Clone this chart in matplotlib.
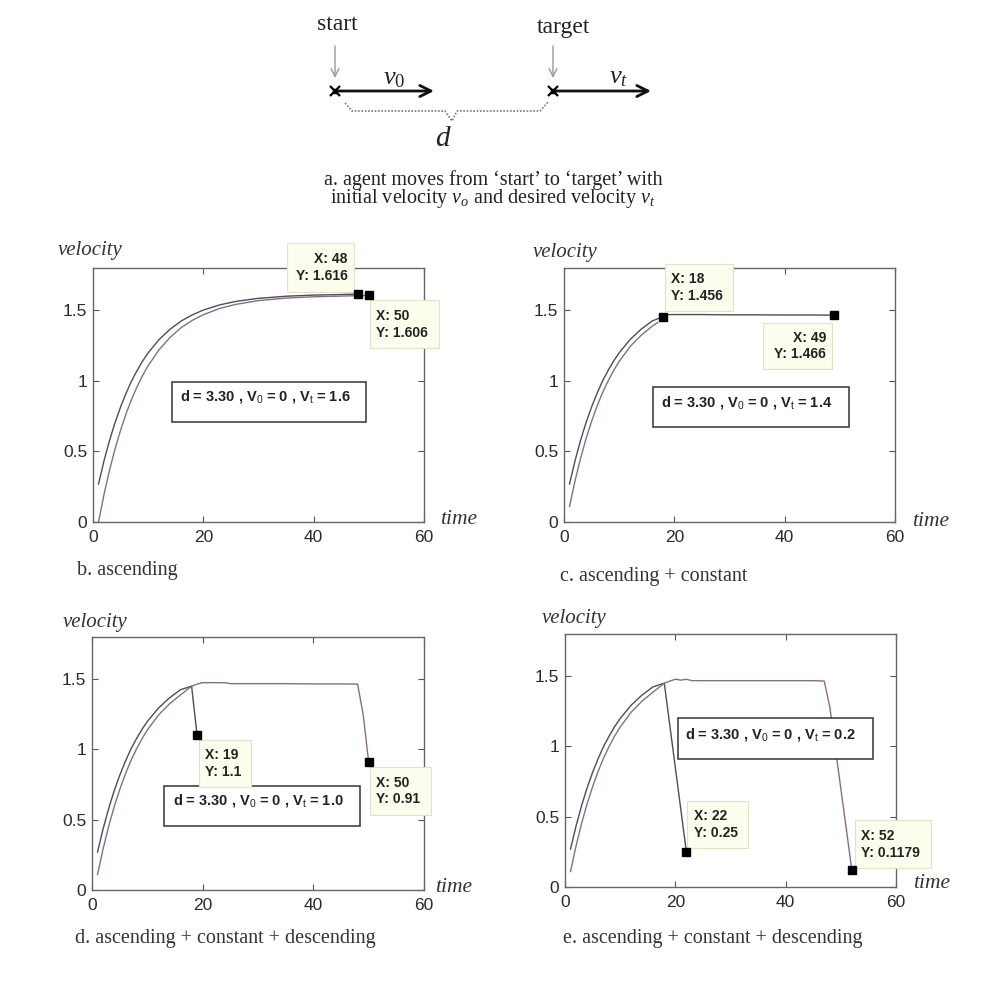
import matplotlib
matplotlib.use("Agg")
import matplotlib.pyplot as plt
from matplotlib.patches import Rectangle

plt.rcParams['mathtext.fontset'] = 'custom'
plt.rcParams['mathtext.rm'] = 'Liberation Serif'
plt.rcParams['mathtext.it'] = 'Liberation Serif:italic'
plt.rcParams['mathtext.sf'] = 'Liberation Sans'
plt.rcParams['mathtext.bf'] = 'Liberation Sans:bold'

# ---------------- data ----------------
# panel b (ascending)
b_t1 = [1, 2, 3, 4, 5, 6, 7, 8, 9, 10, 12, 14, 16, 18, 20, 23, 26, 30, 35, 40, 45, 48]
b_v1 = [0.270, 0.434, 0.578, 0.705, 0.815, 0.913, 1.000, 1.074, 1.141, 1.199, 1.294, 1.367,
        1.425, 1.468, 1.502, 1.539, 1.564, 1.585, 1.600, 1.608, 1.612, 1.616]
b_t2 = [1, 2, 3, 4, 5, 6, 7, 8, 9, 10, 12, 14, 16, 18, 20, 23, 26, 30, 35, 40, 45, 50]
b_v2 = [0.0, 0.196, 0.368, 0.519, 0.650, 0.768, 0.870, 0.959, 1.039, 1.108, 1.222, 1.309,
        1.378, 1.429, 1.469, 1.514, 1.543, 1.569, 1.587, 1.596, 1.601, 1.606]

# panel c (ascending + constant)
c_t1 = [1, 2, 3, 4, 5, 6, 7, 8, 9, 10, 12, 14, 16, 18]
c_v1 = [0.27, 0.434, 0.578, 0.705, 0.815, 0.913, 1.0, 1.074, 1.141, 1.199, 1.294, 1.367, 1.425, 1.456]
c_t2 = [1, 2, 3, 4, 5, 6, 7, 8, 9, 10, 12, 14, 16, 17]
c_v2 = [0.11, 0.292, 0.451, 0.591, 0.713, 0.822, 0.918, 1.0, 1.074, 1.138, 1.244, 1.324, 1.388, 1.414]
c_t3 = [18, 19, 25, 30, 35, 40, 45, 49]
c_v3 = [1.456, 1.47, 1.47, 1.468, 1.468, 1.467, 1.467, 1.466]

# panel d (ascending + constant + descending, Vt = 1.0)
d_t1 = [1, 2, 3, 4, 5, 6, 7, 8, 9, 10, 12, 14, 16, 18, 19]
d_v1 = [0.27, 0.434, 0.578, 0.705, 0.815, 0.913, 1.0, 1.074, 1.141, 1.199, 1.294, 1.367, 1.425, 1.45, 1.1]
d_t2 = [1, 2, 3, 4, 5, 6, 7, 8, 9, 10, 12, 14, 16, 18, 19, 20, 24, 25, 30, 35, 40, 45, 48, 49, 50]
d_v2 = [0.11, 0.292, 0.451, 0.591, 0.713, 0.822, 0.918, 1.0, 1.074, 1.138, 1.244, 1.324, 1.388, 1.45,
        1.465, 1.475, 1.475, 1.468, 1.468, 1.468, 1.466, 1.466, 1.465, 1.25, 0.91]

# panel e (ascending + constant + descending, Vt = 0.2)
e_t1 = [1, 2, 3, 4, 5, 6, 7, 8, 9, 10, 12, 14, 16, 18, 19, 20, 21, 22]
e_v1 = [0.27, 0.434, 0.578, 0.705, 0.815, 0.913, 1.0, 1.074, 1.141, 1.199, 1.294, 1.367, 1.425, 1.45,
        1.15, 0.85, 0.55, 0.25]
e_t2 = [1, 2, 3, 4, 5, 6, 7, 8, 9, 10, 12, 14, 16, 18, 19, 20, 21, 22, 23, 30, 35, 40, 45, 47,
        48, 49, 50, 51, 52]
e_v2 = [0.11, 0.292, 0.451, 0.591, 0.713, 0.822, 0.918, 1.0, 1.074, 1.138, 1.244, 1.324, 1.388, 1.45,
        1.465, 1.478, 1.472, 1.478, 1.468, 1.468, 1.468, 1.468, 1.468, 1.465, 1.28, 0.99, 0.70, 0.41, 0.118]

# data-tip points
b_tips_x = [48, 50]; b_tips_y = [1.616, 1.606]
c_tips_x = [18, 49]; c_tips_y = [1.456, 1.466]
d_tips_x = [19, 50]; d_tips_y = [1.1, 0.91]
e_tips_x = [22, 52]; e_tips_y = [0.25, 0.1179]
b_tips_lbl = [("X: 48", "Y: 1.616"), ("X: 50", "Y: 1.606")]
c_tips_lbl = [("X: 18", "Y: 1.456"), ("X: 49", "Y: 1.466")]
d_tips_lbl = [("X: 19", "Y: 1.1"), ("X: 50", "Y: 0.91")]
e_tips_lbl = [("X: 22", "Y: 0.25"), ("X: 52", "Y: 0.1179")]

vt_values = ["1.6", "1.4", "1.0", "0.2"]
captions = ["b. ascending", "c. ascending + constant",
            "d. ascending + constant + descending", "e. ascending + constant + descending"]
xticks = [0, 20, 40, 60]
yticks = [0, 0.5, 1, 1.5]
ytick_labels = ["0", "0.5", "1", "1.5"]

# ---------------- figure ----------------
W, H = 993, 983
fig = plt.figure(figsize=(W / 100, H / 100), dpi=100)
fig.patch.set_facecolor('white')

def px_axes(l, t, r, b):
    return fig.add_axes([l / W, 1 - b / H, (r - l) / W, (b - t) / H])

axb = px_axes(93, 268, 424, 522)
axc = px_axes(564, 268, 895, 522)
axd = px_axes(92, 637, 424, 890)
axe = px_axes(565, 634, 896, 887)

C1 = '#4c4c5e'
C2 = '#8c6c80'
SANS = 'Liberation Sans'
SERIF = 'Liberation Serif'

def style(ax):
    ax.set_xlim(0, 60)
    ax.set_ylim(0, 1.8)
    ax.set_xticks(xticks)
    ax.set_yticks(yticks)
    ax.set_yticklabels(ytick_labels)
    ax.tick_params(direction='in', top=True, right=True, length=4, width=0.8,
                   colors='#555555', labelcolor='#2a2a2a', labelsize=12.5)
    ax.tick_params(axis='x', pad=6)
    ax.tick_params(axis='y', pad=4)
    for lab in ax.get_xticklabels() + ax.get_yticklabels():
        lab.set_family(SANS)
    for s in ax.spines.values():
        s.set_color('#666666')
        s.set_linewidth(1.0)

def tip(ax, x0, x1, y0, y1, lines, align='left'):
    ax.add_patch(Rectangle((x0, y0), x1 - x0, y1 - y0, facecolor='#fdfdee',
                           edgecolor='#e2e2cc', lw=0.8, clip_on=False, zorder=5))
    txt = "\n".join(lines)
    if align == 'left':
        xx, ha = x0 + 1.1, 'left'
    else:
        xx, ha = x1 - 1.1, 'right'
    ax.text(xx, (y0 + y1) / 2, txt, ha=ha, va='center', family=SANS, fontsize=10,
            color='#222222', linespacing=1.25, zorder=6, clip_on=False, fontweight='bold',
            multialignment=ha)

def info(ax, x0, x1, y0, y1, tx, ty, vt):
    ax.add_patch(Rectangle((x0, y0), x1 - x0, y1 - y0, facecolor='white',
                           edgecolor='#333333', lw=1.1, zorder=4, clip_on=False))
    ax.text(tx, ty, r"d = 3.30 , V$_\mathsf{0}$ = 0 , V$_\mathsf{t}$ = " + vt, ha='left', va='center',
            family=SANS, fontsize=10.5, color='#222222', zorder=5, fontweight='bold')

def markers(ax, xs, ys):
    ax.plot(xs, ys, linestyle='none', marker='s', markersize=6, color='black', zorder=7,
            clip_on=False)

# b
axb.plot(b_t1, b_v1, color=C1, lw=1.0)
axb.plot(b_t2, b_v2, color=C2, lw=1.0)
markers(axb, b_tips_x, b_tips_y)
tip(axb, 35.1, 47.3, 1.63, 1.98, b_tips_lbl[0], 'right')
tip(axb, 50.2, 62.8, 1.23, 1.573, b_tips_lbl[1], 'left')
info(axb, 14.3, 49.5, 0.709, 0.99, 15.8, 0.89, vt_values[0])

# c
axc.plot(c_t1, c_v1, color=C1, lw=1.0)
axc.plot(c_t2, c_v2, color=C2, lw=1.0)
axc.plot(c_t3, c_v3, color=C1, lw=1.0)
markers(axc, c_tips_x, c_tips_y)
tip(axc, 18.3, 30.7, 1.495, 1.827, c_tips_lbl[0], 'left')
tip(axc, 36.0, 48.6, 1.083, 1.41, c_tips_lbl[1], 'right')
info(axc, 16.2, 51.7, 0.67, 0.958, 17.6, 0.846, vt_values[1])

# d
axd.plot(d_t1, d_v1, color=C1, lw=1.0)
axd.plot(d_t2, d_v2, color=C2, lw=1.0)
markers(axd, d_tips_x, d_tips_y)
tip(axd, 19.3, 28.7, 0.735, 1.067, d_tips_lbl[0], 'left')
tip(axd, 50.3, 61.2, 0.533, 0.877, d_tips_lbl[1], 'left')
info(axd, 13.1, 48.5, 0.457, 0.74, 14.6, 0.635, vt_values[2])

# e
axe.plot(e_t1, e_v1, color=C1, lw=1.0)
axe.plot(e_t2, e_v2, color=C2, lw=1.0)
markers(axe, e_tips_x, e_tips_y)
tip(axe, 22.2, 33.2, 0.275, 0.614, e_tips_lbl[0], 'left')
tip(axe, 52.6, 66.3, 0.133, 0.477, e_tips_lbl[1], 'left')
info(axe, 20.4, 55.8, 0.91, 1.2, 21.8, 1.088, vt_values[3])

for ax in (axb, axc, axd, axe):
    style(ax)

# ---------------- overlay (pixel coords) ----------------
ov = fig.add_axes([0, 0, 1, 1], zorder=10)
ov.set_xlim(0, W)
ov.set_ylim(H, 0)
ov.axis('off')
ov.patch.set_alpha(0)

# axis labels
for (x, y) in [(58, 251), (533, 252), (63, 622), (542, 619)]:
    ov.text(x, y, "velocity", ha='left', va='center', family=SERIF, style='italic',
            fontsize=15, color='#333333')
for (x, y) in [(440, 520), (912, 521), (435, 888), (913, 884)]:
    ov.text(x, y, "time", ha='left', va='center', family=SERIF, style='italic',
            fontsize=15.5, color='#333333')

# captions
for (x, y), cap in zip([(77, 571), (560, 577), (75, 938), (563, 938)], captions):
    ov.text(x, y, cap, ha='left', va='center', family=SERIF, fontsize=14.5, color='#333333')

# ---- diagram a ----
ov.text(337, 25, "start", ha='center', va='center', family=SERIF, fontsize=17, color='#222222')
ov.text(563, 27, "target", ha='center', va='center', family=SERIF, fontsize=17, color='#222222')
for x in (335, 553):
    ov.annotate("", xy=(x, 78), xytext=(x, 46),
                arrowprops=dict(arrowstyle='->', color='#999999', lw=1.0,
                                mutation_scale=14, shrinkA=0, shrinkB=0))
    ov.plot([x], [91], marker='x', color='black', markersize=7, mew=1.6)
    ov.plot([x], [91], marker='s', color='black', markersize=2.5)
ov.annotate("", xy=(434, 91), xytext=(338, 91),
            arrowprops=dict(arrowstyle='->', color='#111111', lw=2.0,
                            mutation_scale=20, shrinkA=0, shrinkB=0))
ov.annotate("", xy=(651, 91), xytext=(556, 91),
            arrowprops=dict(arrowstyle='->', color='#111111', lw=2.0,
                            mutation_scale=20, shrinkA=0, shrinkB=0))
ov.text(394, 77, r"$v_{\mathit{0}}$", ha='center', va='center', fontsize=19, color='#222222')
ov.text(619, 76, r"$v_t$", ha='center', va='center', fontsize=19, color='#222222')
ov.plot([345, 352, 445, 452, 457, 540, 548], [103, 111, 111, 121, 111, 111, 102],
        color='#777777', lw=1.2, linestyle=(0, (1, 1)))
ov.text(443, 138, r"$d$", ha='center', va='center', fontsize=21, color='#222222')

ov.text(493, 190,
        "a. agent moves from \u2018start\u2019 to \u2018target\u2019 with\n"
        r"initial velocity $v_o$ and desired velocity $v_t$",
        ha='center', va='center', multialignment='center', family=SERIF, fontsize=14.5,
        linespacing=0.85, color='#222222')

fig.savefig("out.png", dpi=100, facecolor='white')
